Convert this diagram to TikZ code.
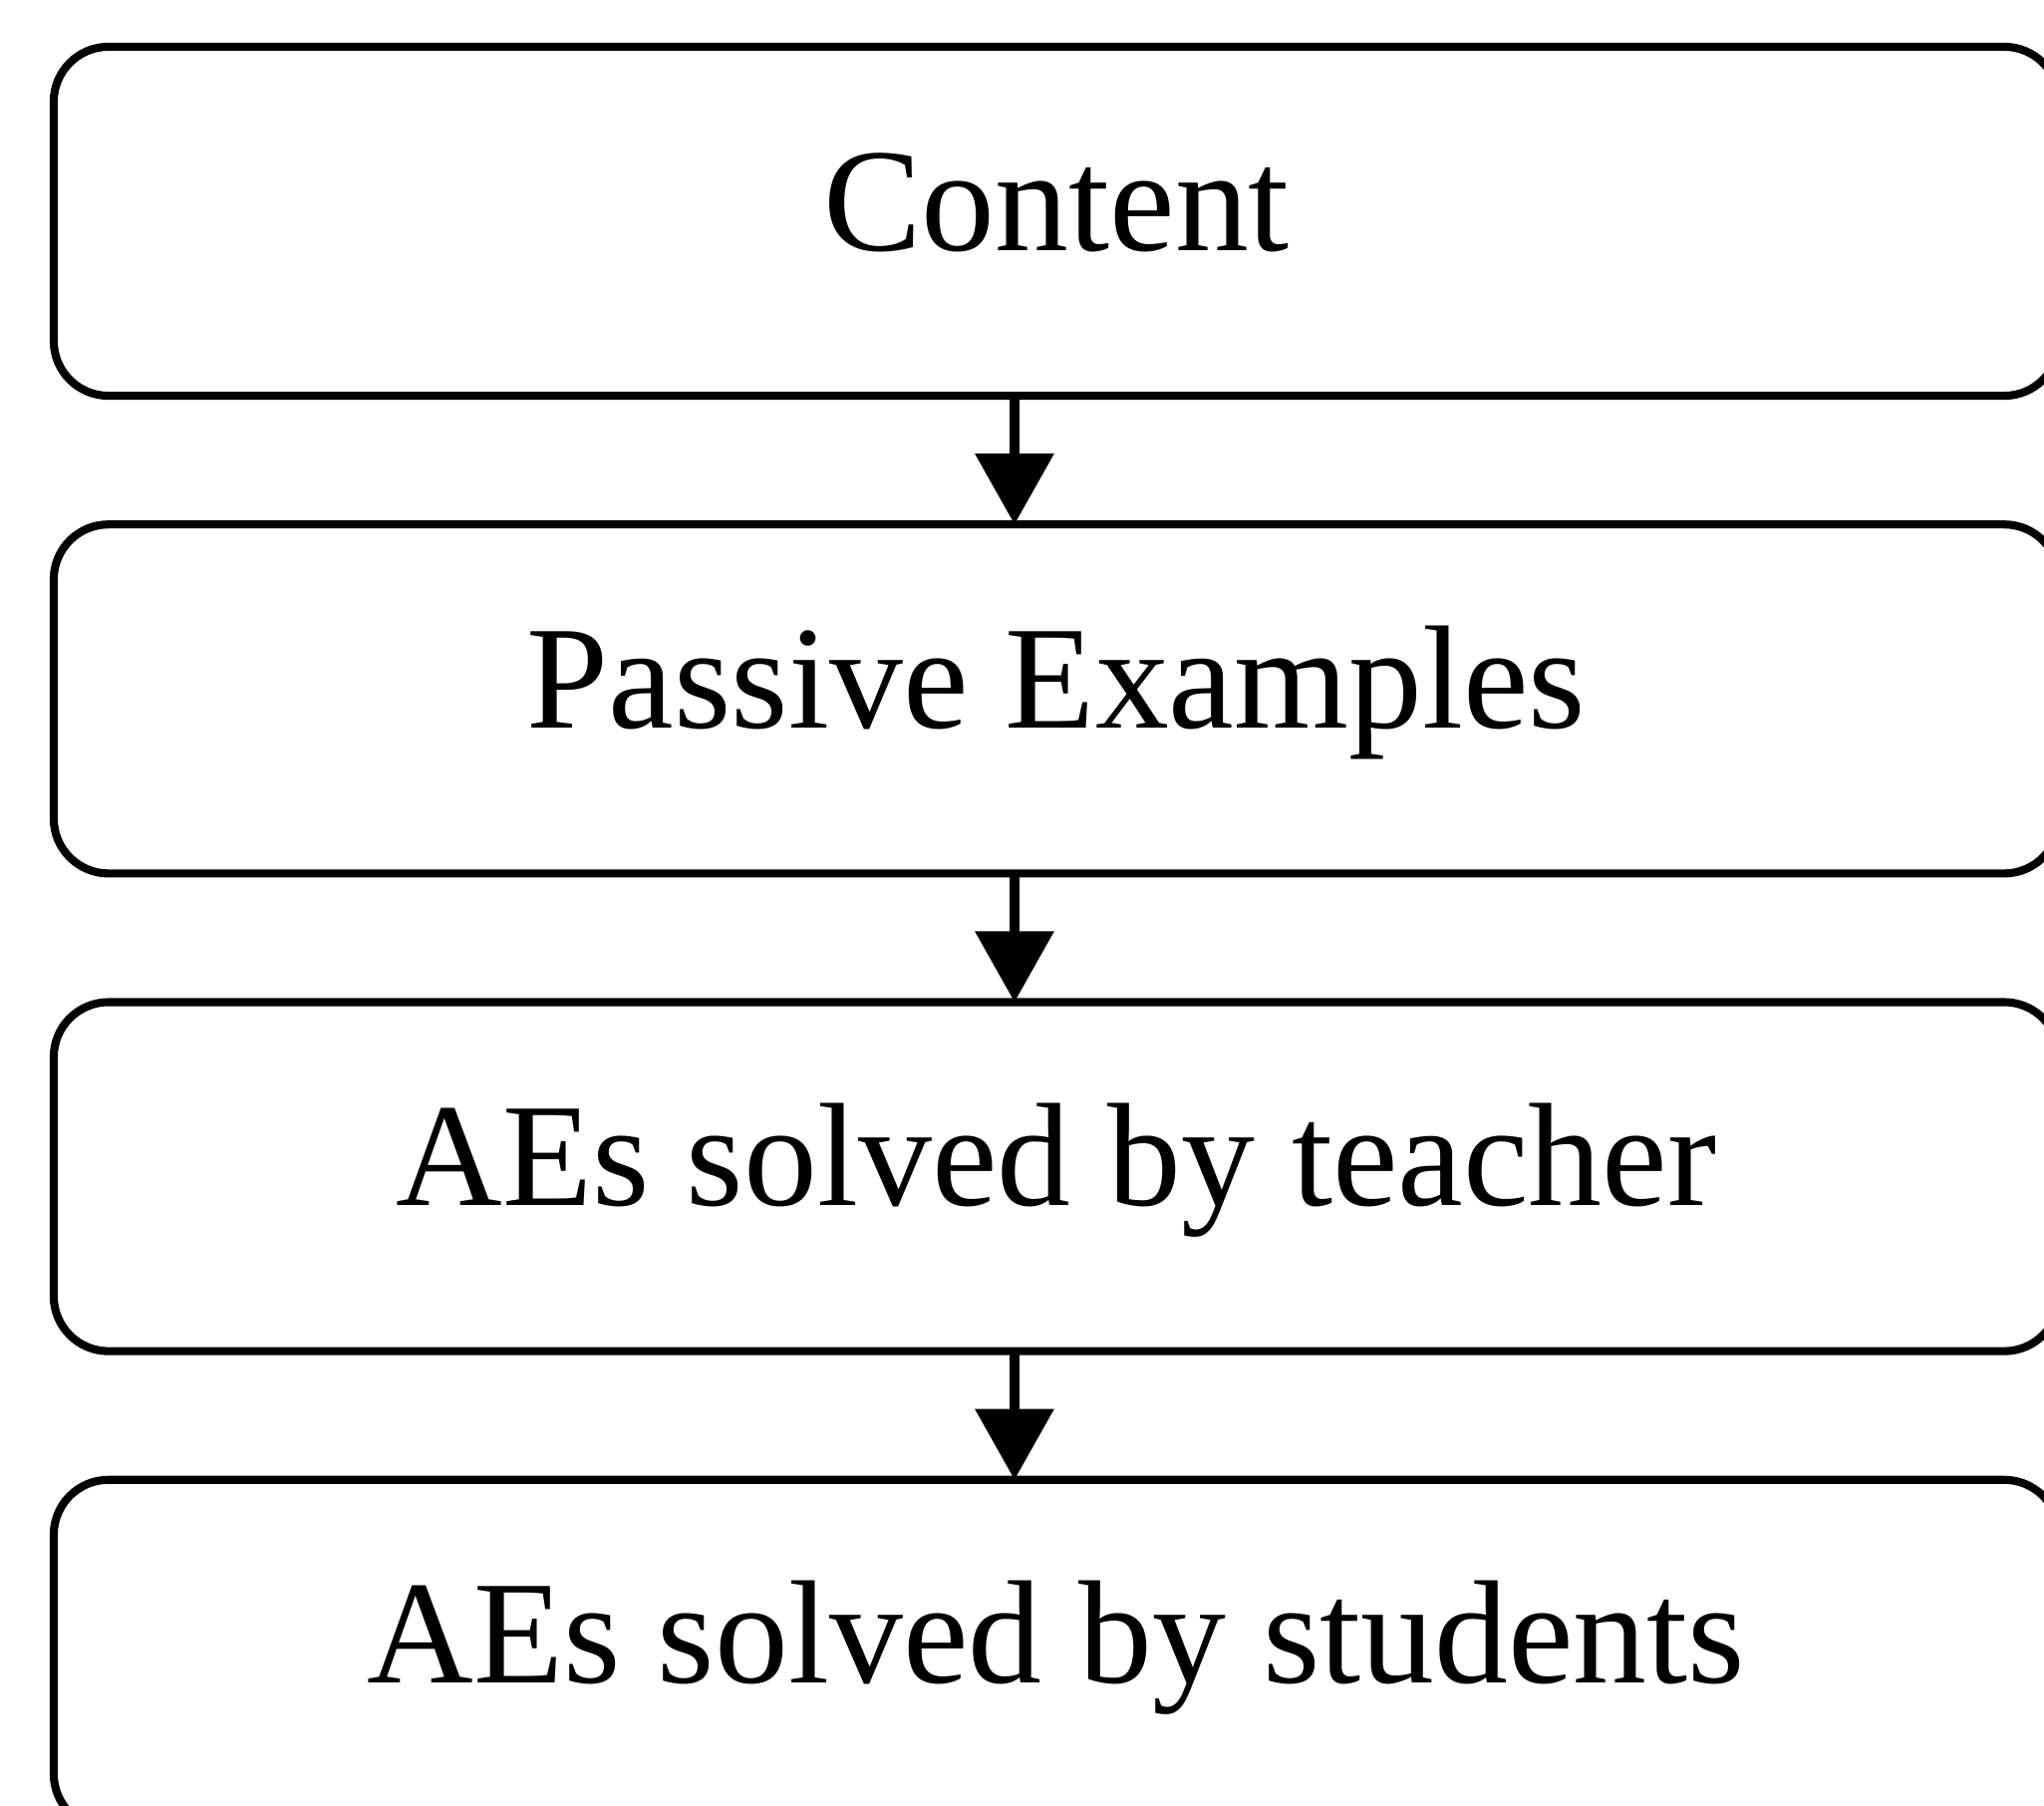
\documentclass[tikz,border=0pt]{standalone}
\usepackage{fontspec}
\setmainfont{Liberation Serif}
\usetikzlibrary{arrows.meta,positioning}

\begin{document}
\begin{tikzpicture}[x=0.01cm,y=-0.01cm,
  stage/.style={draw=black,line width=2.3pt,rounded corners=0.55cm,inner sep=0pt,outer sep=0pt,
    minimum width=20.11cm,minimum height=3.5cm,text height=1.0cm,text depth=0.42cm,
    font=\fontsize{42}{50}\selectfont},
  flow/.style={line width=2.8pt,-{Triangle[width=0.77cm,length=0.71cm]}}]
\useasboundingbox (0,0) rectangle (2051,1812);
% the stages
\node[stage] (content) at (1060,222) {Content};
\node[stage,below=1.29cm of content] (passive) {Passive Examples};
\node[stage,below=1.29cm of passive] (teacher) {AEs solved by teacher};
\node[stage,below=1.29cm of teacher] (students) {AEs solved by students};
% the arrows
\foreach \a/\b in {content/passive,passive/teacher,teacher/students}
  \draw[flow] ([xshift=-0.42cm]\a.south) -- ([xshift=-0.42cm]\b.north);
\end{tikzpicture}
\end{document}
